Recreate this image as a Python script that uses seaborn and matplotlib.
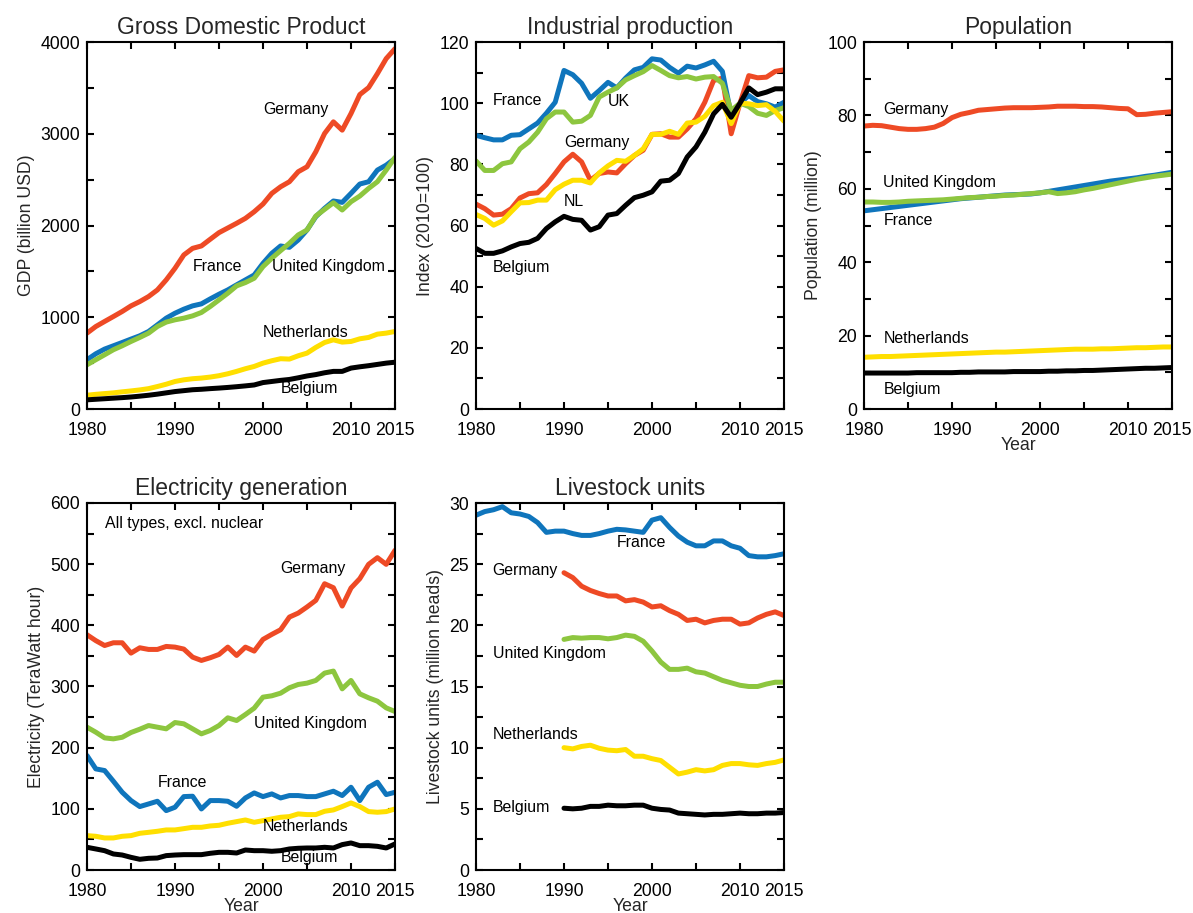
import matplotlib
matplotlib.use("Agg")
import matplotlib.pyplot as plt
import seaborn as sns
import numpy as np
import pandas as pd

years = list(range(1980, 2016))
years_90 = list(range(1990, 2016))
countries = ["Germany", "France", "United Kingdom", "Netherlands", "Belgium"]
colors = {"Germany": "#EE4A25", "France": "#0F75BC", "United Kingdom": "#8DC63F",
          "Netherlands": "#FFDF00", "Belgium": "#000000"}

# GDP (billion USD)
gdp_germany = [827, 899, 954, 1008, 1063, 1124, 1171, 1226, 1298, 1407, 1534, 1679, 1751, 1777,
               1850, 1922, 1973, 2024, 2078, 2150, 2234, 2350, 2422, 2477, 2586, 2640, 2803, 3003,
               3130, 3039, 3220, 3427, 3503, 3655, 3819, 3927]
gdp_france = [537, 602, 653, 689, 725, 762, 798, 845, 917, 990, 1044, 1088, 1124, 1146, 1200,
              1251, 1298, 1353, 1407, 1461, 1588, 1697, 1777, 1762, 1842, 1951, 2096, 2187, 2267,
              2252, 2350, 2452, 2477, 2604, 2658, 2731]
gdp_uk = [482, 537, 591, 646, 689, 736, 780, 827, 899, 947, 972, 990, 1015, 1052, 1117, 1189,
          1262, 1342, 1378, 1425, 1552, 1643, 1726, 1806, 1897, 1951, 2103, 2176, 2248, 2169,
          2259, 2321, 2404, 2477, 2604, 2742]
gdp_netherlands = [150, 160, 168, 176, 187, 197, 208, 222, 245, 270, 300, 318, 330, 337, 348, 363,
                   384, 410, 439, 464, 500, 526, 548, 544, 580, 609, 671, 725, 754, 729, 736,
                   765, 780, 816, 827, 845]
gdp_belgium = [100, 106, 112, 118, 124, 131, 140, 150, 162, 176, 190, 200, 210, 215, 222, 228,
               235, 243, 252, 262, 288, 300, 312, 322, 340, 360, 375, 395, 410, 410, 446, 460,
               472, 486, 500, 510]

# Industrial production index (2010=100)
ind_germany = [67.0, 65.5, 63.4, 63.7, 65.5, 69.0, 70.4, 70.7, 73.4, 77.0, 80.8, 83.3, 80.8, 74.8,
               77.0, 77.5, 77.2, 80.2, 82.9, 84.6, 89.8, 90.0, 88.9, 88.9, 91.6, 94.9, 100.3,
               107.4, 108.2, 90.0, 100.0, 109.0, 108.3, 108.5, 110.4, 110.9]
ind_france = [89.5, 88.7, 88.0, 88.0, 89.5, 89.7, 91.6, 93.5, 96.7, 100.3, 110.7, 109.3, 106.5,
              101.6, 104.1, 106.8, 105.0, 108.2, 110.9, 111.7, 114.5, 114.1, 111.7, 109.8, 112.1,
              111.5, 112.5, 113.7, 110.4, 96.0, 100.0, 102.5, 100.5, 99.8, 98.7, 100.3]
ind_uk = [81.1, 78.0, 78.0, 80.2, 80.8, 85.1, 87.3, 90.5, 94.9, 97.1, 97.1, 93.8, 94.1, 96.0,
          102.0, 103.6, 105.0, 107.6, 109.0, 110.3, 112.3, 110.7, 109.0, 108.3, 108.7, 107.9,
          108.5, 108.7, 106.5, 97.6, 100.0, 98.9, 96.7, 96.0, 97.6, 98.5]
ind_netherlands = [63.6, 62.3, 60.1, 61.5, 64.5, 67.4, 67.5, 68.3, 68.3, 71.7, 73.5, 74.8, 74.8,
                   73.9, 77.2, 79.5, 81.3, 81.0, 82.9, 85.1, 89.8, 89.8, 90.8, 89.8, 93.5, 93.8,
                   95.7, 99.2, 100.3, 93.3, 100.0, 99.8, 99.2, 99.5, 97.3, 94.1]
ind_belgium = [52.5, 50.9, 50.9, 51.7, 53.0, 54.1, 54.5, 55.8, 59.0, 61.2, 63.0, 62.0, 61.7, 58.5,
               59.6, 63.4, 63.9, 66.6, 69.1, 69.9, 71.0, 74.5, 74.8, 77.0, 82.4, 85.7, 90.5, 96.5,
               99.6, 95.4, 100.0, 105.0, 102.8, 103.6, 104.7, 104.7]

# Population (million)
pop_germany = [77.1, 77.3, 77.2, 76.8, 76.4, 76.2, 76.2, 76.4, 76.8, 77.8, 79.4, 80.3, 80.8, 81.4,
               81.6, 81.8, 82.0, 82.1, 82.1, 82.1, 82.2, 82.3, 82.5, 82.5, 82.5, 82.4, 82.4,
               82.3, 82.1, 81.9, 81.8, 80.2, 80.3, 80.6, 80.8, 81.0]
pop_france = [54.0, 54.3, 54.6, 54.9, 55.2, 55.5, 55.8, 56.1, 56.4, 56.7, 57.0, 57.3, 57.5, 57.7,
              57.9, 58.1, 58.3, 58.4, 58.5, 58.6, 58.9, 59.3, 59.7, 60.1, 60.5, 60.9, 61.3, 61.7,
              62.1, 62.4, 62.7, 63.0, 63.4, 63.7, 64.1, 64.5]
pop_uk = [56.4, 56.4, 56.3, 56.3, 56.4, 56.6, 56.7, 56.8, 56.9, 57.0, 57.2, 57.4, 57.6, 57.7,
          57.9, 58.0, 58.2, 58.3, 58.5, 58.7, 58.9, 59.2, 58.7, 58.9, 59.2, 59.7, 60.1, 60.6,
          61.1, 61.6, 62.1, 62.6, 63.0, 63.4, 63.7, 64.0]
pop_netherlands = [14.1, 14.2, 14.3, 14.3, 14.4, 14.5, 14.6, 14.7, 14.8, 14.9, 15.0, 15.1, 15.2,
                   15.3, 15.4, 15.5, 15.5, 15.6, 15.7, 15.8, 15.9, 16.0, 16.1, 16.2, 16.3, 16.3,
                   16.3, 16.4, 16.4, 16.5, 16.6, 16.7, 16.7, 16.8, 16.9, 16.9]
pop_belgium = [9.8, 9.8, 9.8, 9.8, 9.8, 9.8, 9.9, 9.9, 9.9, 9.9, 9.9, 10.0, 10.0, 10.1, 10.1,
               10.1, 10.1, 10.2, 10.2, 10.2, 10.2, 10.3, 10.3, 10.4, 10.4, 10.5, 10.5, 10.6,
               10.7, 10.8, 10.9, 11.0, 11.1, 11.1, 11.2, 11.3]

# Electricity generation, all types excl. nuclear (TWh)
elec_germany = [384.6, 375.0, 367.0, 371.5, 371.5, 354.6, 363.3, 360.6, 360.6, 365.5, 364.4,
                361.2, 348.0, 342.6, 347.0, 352.4, 364.4, 350.8, 364.4, 357.9, 377.0, 385.2,
                392.8, 413.5, 420.0, 430.0, 440.8, 468.0, 461.5, 431.5, 461.0, 476.3, 499.7,
                510.6, 499.7, 522.6]
elec_france = [187.1, 165.3, 162.6, 145.1, 127.1, 113.5, 103.7, 108.0, 112.4, 97.1, 102.6, 120.0,
               120.6, 99.8, 113.5, 113.5, 112.4, 104.2, 117.8, 126.0, 120.0, 124.4, 117.8, 121.7,
               121.7, 120.0, 120.0, 124.4, 128.8, 121.7, 135.3, 113.5, 135.3, 143.5, 123.3, 127.1]
elec_uk = [233.5, 225.3, 216.0, 214.4, 217.0, 224.8, 230.2, 236.2, 233.5, 230.8, 241.1, 239.0,
           230.8, 222.6, 228.0, 236.2, 248.8, 244.4, 254.2, 264.6, 282.6, 284.8, 289.1, 297.9,
           303.3, 305.5, 309.9, 321.9, 325.2, 296.2, 309.9, 288.0, 281.5, 276.0, 265.1, 259.1]
elec_netherlands = [56.2, 55.1, 52.4, 52.4, 55.1, 56.2, 60.0, 61.6, 63.3, 65.5, 65.5, 67.6, 69.8,
                    69.8, 72.0, 73.1, 76.4, 79.1, 81.8, 78.0, 80.7, 83.5, 86.2, 87.3, 91.7, 90.6,
                    90.6, 96.0, 98.2, 103.7, 109.7, 103.7, 95.5, 94.4, 95.5, 99.8]
elec_belgium = [37.1, 34.4, 31.6, 26.2, 24.5, 20.7, 17.5, 19.1, 19.6, 23.5, 24.5, 25.1, 25.1,
                25.1, 27.3, 28.9, 28.9, 27.8, 32.7, 31.6, 31.6, 30.6, 31.6, 34.4, 35.5, 36.0,
                36.0, 37.1, 36.0, 41.5, 44.2, 39.8, 39.8, 38.7, 36.0, 42.6]

# Livestock units (million heads)
live_france = [29.0, 29.3, 29.45, 29.7, 29.2, 29.1, 28.9, 28.4, 27.6, 27.7, 27.7, 27.5, 27.35,
                27.35, 27.5, 27.7, 27.85, 27.8, 27.7, 27.6, 28.6, 28.8, 28.0, 27.3, 26.8, 26.5,
                26.5, 26.9, 26.9, 26.5, 26.3, 25.7, 25.6, 25.6, 25.7, 25.85]
live_germany = [24.3, 23.9, 23.2, 22.85, 22.6, 22.4, 22.4, 22.0, 22.1, 21.9, 21.5, 21.6, 21.2,
                20.9, 20.4, 20.5, 20.2, 20.4, 20.5, 20.5, 20.1, 20.2, 20.6, 20.9, 21.1, 20.8]
live_uk = [18.85, 19.0, 18.95, 19.0, 19.0, 18.9, 19.0, 19.2, 19.1, 18.7, 17.9, 17.0, 16.4, 16.4,
           16.5, 16.2, 16.1, 15.8, 15.5, 15.3, 15.1, 15.0, 15.0, 15.2, 15.35, 15.35]
live_netherlands = [10.0, 9.9, 10.1, 10.2, 9.95, 9.8, 9.75, 9.85, 9.3, 9.3, 9.1, 8.95, 8.4, 7.85,
                    8.0, 8.2, 8.1, 8.2, 8.55, 8.7, 8.7, 8.6, 8.55, 8.7, 8.8, 9.0]
live_belgium = [5.05, 5.0, 5.05, 5.2, 5.2, 5.3, 5.25, 5.25, 5.3, 5.3, 5.05, 4.95, 4.9, 4.65, 4.6,
                4.55, 4.5, 4.55, 4.55, 4.6, 4.65, 4.6, 4.6, 4.65, 4.65, 4.7]


def long_table(series):
    frames = []
    for name, (yrs, vals) in series.items():
        frames.append(pd.DataFrame({"year": yrs, "value": vals, "country": name}))
    return pd.concat(frames, ignore_index=True)


sns.set_style("ticks")
plt.rcParams["font.family"] = ["Liberation Sans", "DejaVu Sans"]
plt.rcParams["axes.linewidth"] = 1.5

fig = plt.figure(figsize=(11.93, 9.13), dpi=100)
W, H = 1193, 913
col_left = [87, 476, 864]
row_top = [42, 503]
ax_w, ax_h = 308, 367


def make_ax(col, row):
    return fig.add_axes([col_left[col] / W, 1 - (row_top[row] + ax_h) / H, ax_w / W, ax_h / H])


panels = [
    dict(pos=(0, 0), title="Gross Domestic Product", ylabel="GDP (billion USD)",
         ylim=4000, major=1000, minor=500, xlabel=False,
         series={"Germany": (years, gdp_germany), "France": (years, gdp_france),
                 "United Kingdom": (years, gdp_uk), "Netherlands": (years, gdp_netherlands),
                 "Belgium": (years, gdp_belgium)},
         labels=[("Germany", 2000, 3260), ("France", 1992, 1548), ("United Kingdom", 2001, 1548),
                 ("Netherlands", 2000, 839), ("Belgium", 2002, 218)]),
    dict(pos=(1, 0), title="Industrial production", ylabel="Index (2010=100)",
         ylim=120, major=20, minor=10, xlabel=False,
         series={"Germany": (years, ind_germany), "France": (years, ind_france),
                 "United Kingdom": (years, ind_uk), "Netherlands": (years, ind_netherlands),
                 "Belgium": (years, ind_belgium)},
         labels=[("France", 1981.9, 101), ("UK", 1995, 100.4), ("Germany", 1990, 87),
                 ("NL", 1990, 67.7), ("Belgium", 1981.9, 46.4)]),
    dict(pos=(2, 0), title="Population", ylabel="Population (million)",
         ylim=100, major=20, minor=10, xlabel=True,
         series={"Germany": (years, pop_germany), "France": (years, pop_france),
                 "United Kingdom": (years, pop_uk), "Netherlands": (years, pop_netherlands),
                 "Belgium": (years, pop_belgium)},
         labels=[("Germany", 1982.2, 81.7), ("United Kingdom", 1982.2, 61.6),
                 ("France", 1982.2, 51.3), ("Netherlands", 1982.2, 19.1),
                 ("Belgium", 1982.2, 5.4)]),
    dict(pos=(0, 1), title="Electricity generation", ylabel="Electricity (TeraWatt hour)",
         ylim=600, major=100, minor=50, xlabel=True,
         series={"Germany": (years, elec_germany), "France": (years, elec_france),
                 "United Kingdom": (years, elec_uk), "Netherlands": (years, elec_netherlands),
                 "Belgium": (years, elec_belgium)},
         labels=[("All types, excl. nuclear", 1982, 567), ("Germany", 2002, 493),
                 ("United Kingdom", 1999, 239), ("France", 1988, 143),
                 ("Netherlands", 2000, 70.5), ("Belgium", 2002, 19.7)]),
    dict(pos=(1, 1), title="Livestock units", ylabel="Livestock units (million heads)",
         ylim=30, major=5, minor=2.5, xlabel=True,
         series={"Germany": (years_90, live_germany), "France": (years, live_france),
                 "United Kingdom": (years_90, live_uk), "Netherlands": (years_90, live_netherlands),
                 "Belgium": (years_90, live_belgium)},
         labels=[("France", 1996, 26.8), ("Germany", 1981.9, 24.5),
                 ("United Kingdom", 1981.9, 17.7), ("Netherlands", 1981.9, 11.1),
                 ("Belgium", 1981.9, 5.1)]),
]

for p in panels:
    ax = make_ax(*p["pos"])
    df = long_table(p["series"])
    sns.lineplot(data=df, x="year", y="value", hue="country", hue_order=countries,
                 palette=colors, linewidth=3.6, legend=False, ax=ax)
    ax.set_xlim(1980, 2015)
    ax.set_ylim(0, p["ylim"])
    ax.set_xticks([1980, 1990, 2000, 2010, 2015])
    ax.set_xticks([1985, 1995, 2005], minor=True)
    ax.set_yticks(np.arange(0, p["ylim"] + 0.01, p["major"]))
    ax.set_yticks(np.arange(0, p["ylim"] + 0.01, p["minor"]), minor=True)
    ax.tick_params(which="both", direction="in", top=True, right=True, length=5, width=1.5,
                   labelsize=12.7, colors="black")
    ax.tick_params(axis="x", pad=9)
    ax.tick_params(axis="y", pad=5)
    for s in ax.spines.values():
        s.set_color("black")
        s.set_linewidth(1.5)
    ax.set_title(p["title"], fontsize=16.5, pad=6)
    ax.set_ylabel(p["ylabel"], fontsize=12.7, labelpad=4)
    if p["xlabel"]:
        ax.set_xlabel("Year", fontsize=12.7, labelpad=-1)
    else:
        ax.set_xlabel("")
    for txt, x, y in p["labels"]:
        ax.text(x, y, txt, fontsize=11.4, ha="left", va="center", color="black")

fig.savefig("out.png", dpi=100)
